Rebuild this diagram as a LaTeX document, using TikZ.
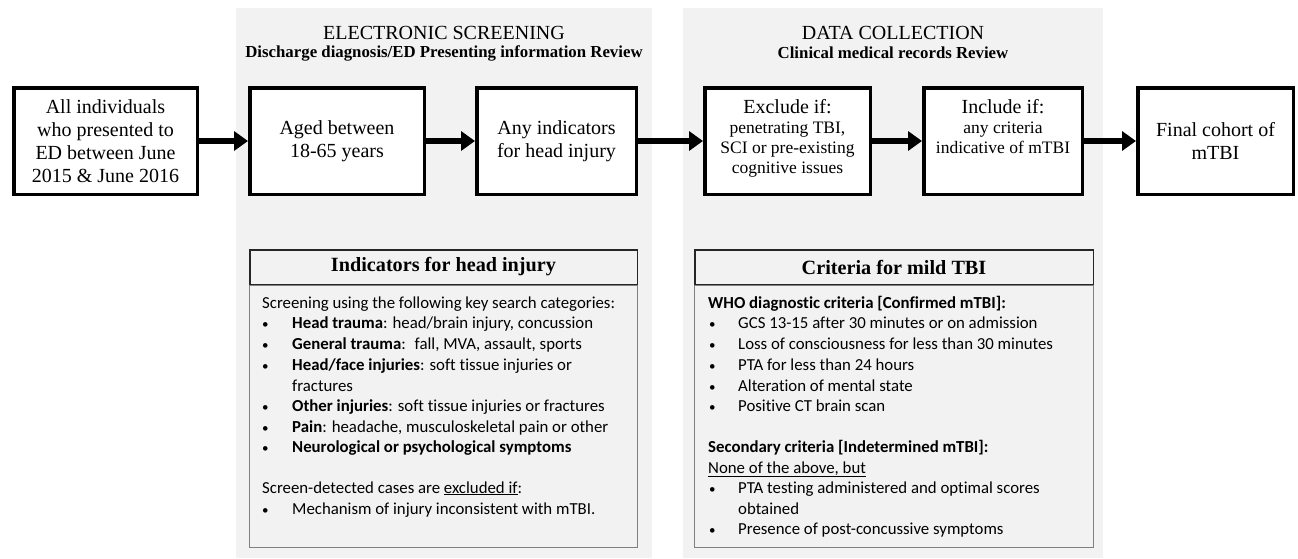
\documentclass[tikz,border=0pt]{standalone}
\usepackage{fontspec}
\setmainfont{Liberation Serif}
\newfontfamily\calfont[Ligatures=NoCommon]{Carlito}
\usetikzlibrary{arrows.meta}
\definecolor{panelgray}{HTML}{F2F2F2}
\definecolor{bordergray}{HTML}{808080}
\newcommand{\bul}{{\fontsize{13}{13}\selectfont •}}
\begin{document}
\begin{tikzpicture}[x=1pt,y=-1pt,
  bigbox/.style={draw, line width=3.5pt, fill=white, inner sep=0pt, minimum height=106.5pt, align=center, font=\fontsize{20}{23}\selectfont},
  arr/.style={line width=6pt, -{Triangle[length=14pt,width=19pt]}},
  ttl/.style={inner sep=0pt, font=\fontsize{20}{23}\selectfont},
  subttl/.style={inner sep=0pt, font=\bfseries\fontsize{16.8}{19}\selectfont},
  ctitle/.style={draw=black!85, line width=1.5pt, fill=panelgray, inner sep=0pt, minimum height=34.5pt, font=\bfseries\fontsize{20.2}{22}\selectfont},
  cbody/.style={draw=bordergray, line width=1pt, fill=panelgray, inner sep=0pt, minimum height=262pt},
  txt/.style={anchor=west, inner sep=0pt, text height=13pt, text depth=3pt, font=\calfont\fontsize{16.8}{20.6}\selectfont},
  bigline/.style={inner sep=0pt, text height=13pt, text depth=0pt, font=\fontsize{20}{23}\selectfont},
  smallline/.style={inner sep=0pt, text height=11pt, text depth=0pt, font=\fontsize{17.5}{20}\selectfont}
]
\useasboundingbox (0,0) rectangle (1298,558);
\fill[white] (0,0) rectangle (1298,558);
% panels
\fill[panelgray] (236,8) rectangle (652,558);
\fill[panelgray] (683,8) rectangle (1103,558);
% panel titles
\node[ttl] (t1) at (444,33) {ELECTRONIC SCREENING};
\node[subttl] (s1) at (444,53) {Discharge diagnosis/ED Presenting information Review};
\node[ttl] (t2) at (893,33) {DATA COLLECTION};
\node[subttl] (s2) at (893,53) {Clinical medical records Review};
% main boxes
\node[bigbox, minimum width=183.5pt] (b1) at (105.5,141) {All individuals\\who presented to\\ED between June\\2015 \& June 2016};
\node[bigbox, minimum width=174.5pt] (b2) at (337,141) {Aged between\\18-65 years};
\node[bigbox, minimum width=159.5pt] (b3) at (556.5,141) {Any indicators\\for head injury};
\node[bigbox, minimum width=165.5pt] (b4) at (787.5,141) {};
\node[bigbox, minimum width=158.5pt] (b5) at (1003,141) {};
\node[bigbox, minimum width=155.5pt] (b6) at (1215.5,141) {Final cohort of\\mTBI};
\node[bigline] (e1) at (787.5,107) {Exclude if:};
\node[smallline] (e2) at (787.5,128) {penetrating TBI,};
\node[smallline] (e3) at (787.5,148) {SCI or pre-existing};
\node[smallline] (e4) at (787.5,168) {cognitive issues};
\node[bigline] (i1) at (1003,107) {Include if:};
\node[smallline] (i2) at (1003,128) {any criteria};
\node[smallline] (i3) at (1003,148) {indicative of mTBI};
% arrows
\draw[arr] (b1) -- (b2);
\draw[arr] (b2) -- (b3);
\draw[arr] (b3) -- (b4);
\draw[arr] (b4) -- (b5);
\draw[arr] (b5) -- (b6);
% criteria boxes
\node[cbody, minimum width=388pt] (ba) at (443.5,416.5) {};
\node[ctitle, minimum width=387.5pt] (ta) at (443.5,267) {Indicators for head injury};
\node[cbody, minimum width=399pt] (bb) at (894,416.5) {};
\node[ctitle, minimum width=398.5pt] (tb) at (894,267) {Criteria for mild TBI};
% box A text
\node[txt] (a0) at (262,303) {Screening using the following key search categories:};
\node[txt] (ab1) at (262,323) {\bul};
\node[txt] (a1) at (292,323) {\textbf{Head trauma}: head/brain injury, concussion};
\node[txt] (ab2) at (262,344) {\bul};
\node[txt] (a2) at (292,344) {\textbf{General trauma}:~ fall, MVA, assault, sports};
\node[txt] (ab3) at (262,365) {\bul};
\node[txt] (a3) at (292,365) {\textbf{Head/face injuries}: soft tissue injuries or};
\node[txt] (a3b) at (292,386) {fractures};
\node[txt] (ab4) at (262,406) {\bul};
\node[txt] (a4) at (292,406) {\textbf{Other injuries}: soft tissue injuries or fractures};
\node[txt] (ab5) at (262,427) {\bul};
\node[txt] (a5) at (292,427) {\textbf{Pain}: headache, musculoskeletal pain or other};
\node[txt] (ab6) at (262,447) {\bul};
\node[txt] (a6) at (292,447) {\textbf{Neurological or psychological symptoms}};
\node[txt] (a7) at (262,488) {Screen-detected cases are \underline{excluded if}:};
\node[txt] (ab8) at (262,509) {\bul};
\node[txt] (a8) at (292,509) {Mechanism of injury inconsistent with mTBI.};
% box B text
\node[txt] (c0) at (708,303) {\textbf{WHO diagnostic criteria [Confirmed mTBI]:}};
\node[txt] (cb1) at (709,323) {\bul};
\node[txt] (c1) at (738,323) {GCS 13-15 after 30 minutes or on admission};
\node[txt] (cb2) at (709,344) {\bul};
\node[txt] (c2) at (738,344) {Loss of consciousness for less than 30 minutes};
\node[txt] (cb3) at (709,365) {\bul};
\node[txt] (c3) at (738,365) {PTA for less than 24 hours};
\node[txt] (cb4) at (709,386) {\bul};
\node[txt] (c4) at (738,386) {Alteration of mental state};
\node[txt] (cb5) at (709,406) {\bul};
\node[txt] (c5) at (738,406) {Positive CT brain scan};
\node[txt] (c6) at (708,447) {\textbf{Secondary criteria [Indetermined mTBI]:}};
\node[txt] (c7) at (708,468) {\underline{None of the above, but}};
\node[txt] (cb8) at (709,488) {\bul};
\node[txt] (c8) at (738,488) {PTA testing administered and optimal scores};
\node[txt] (c8b) at (738,509) {obtained};
\node[txt] (cb9) at (709,529) {\bul};
\node[txt] (c9) at (738,529) {Presence of post-concussive symptoms};
\end{tikzpicture}
\end{document}
